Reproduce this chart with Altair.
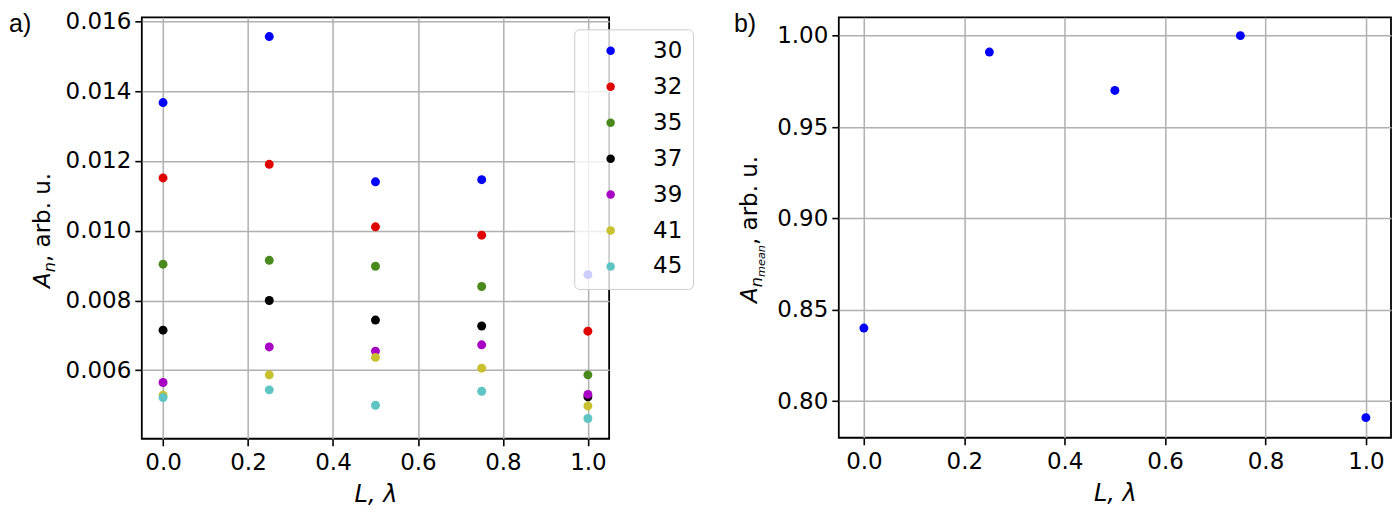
import altair as alt
import pandas as pd

# ---- data ----
L_vals = [0.0, 0.25, 0.5, 0.75, 1.0]
series_names = ["30", "32", "35", "37", "39", "41", "45"]
series_colors = ["#0000ff", "#e00000", "#4a8a1c", "#000000", "#a800c4", "#c8c02c", "#5ec4c4"]
A_30 = [0.01367, 0.01556, 0.01140, 0.01146, 0.00874]
A_32 = [0.01151, 0.01190, 0.01011, 0.00987, 0.00712]
A_35 = [0.00904, 0.00915, 0.00898, 0.00840, 0.00587]
A_37 = [0.00715, 0.00800, 0.00744, 0.00727, 0.00524]
A_39 = [0.00565, 0.00667, 0.00655, 0.00673, 0.00531]
A_41 = [0.00529, 0.00587, 0.00637, 0.00606, 0.00498]
A_45 = [0.00522, 0.00544, 0.00500, 0.00540, 0.00462]
A_mean = [0.840, 0.991, 0.970, 1.000, 0.791]

left_yticks = [0.006, 0.008, 0.010, 0.012, 0.014, 0.016]
right_yticks = [0.80, 0.85, 0.90, 0.95, 1.00]
xticks = [0.0, 0.2, 0.4, 0.6, 0.8, 1.0]

all_series = [A_30, A_32, A_35, A_37, A_39, A_41, A_45]
rows = []
for name, vals in zip(series_names, all_series):
    for l, a in zip(L_vals, vals):
        rows.append({"L": l, "A": a, "series": name})
df_left = pd.DataFrame(rows)
df_right = pd.DataFrame({"L": L_vals, "A": A_mean})

FONT = "DejaVu Sans"
TICK_FS = 23
TITLE_FS = 23
PT_SIZE = 80

def xaxis():
    return alt.Axis(values=xticks, format=".1f", title="L, λ", titleFontStyle="italic",
                    titleFontWeight="normal", titleFontSize=24, titlePadding=8)

def one(text, x, y, fs, italic=False, angle=270, baseline="alphabetic", font=FONT):
    props = dict(text=text, fontSize=fs, font=font, align="left", baseline=baseline,
                 angle=angle, color="black")
    if italic:
        props["fontStyle"] = "italic"
    return alt.Chart(pd.DataFrame({"_": [0]})).mark_text(**props).encode(
        x=alt.value(x), y=alt.value(y))

W1, H1 = 468, 422
W2, H2 = 553, 421

points_left = alt.Chart(df_left).mark_circle(size=PT_SIZE, opacity=1).encode(
    x=alt.X("L:Q", scale=alt.Scale(domain=[-0.05, 1.05], nice=False, zero=False), axis=xaxis()),
    y=alt.Y("A:Q", scale=alt.Scale(domain=[0.00404, 0.01611], nice=False, zero=False),
            axis=alt.Axis(values=left_yticks, format=".3f", title=None)),
    color=alt.Color("series:N", sort=series_names,
                    scale=alt.Scale(domain=series_names, range=series_colors),
                    legend=alt.Legend(title=None, orient="none", legendX=433, legendY=12,
                                      symbolType="circle", symbolSize=72, symbolStrokeWidth=0,
                                      symbolOpacity=1,
                                      labelFontSize=23, labelFont=FONT, labelColor="black",
                                      padding=10, symbolOffset=15, labelOffset=31,
                                      rowPadding=12, fillColor="rgba(255,255,255,0.8)",
                                      strokeColor="#cccccc", cornerRadius=5)),
)

left = alt.layer(
    points_left,
    one("a)", -133, -5, 25, angle=0, baseline="top", font="Liberation Sans"),
    one("A", -92, 271, TITLE_FS, italic=True),
    one("n", -87, 255.3, TITLE_FS * 0.7, italic=True),
    one(", arb. u.", -92, 245, TITLE_FS),
).properties(width=W1, height=H1)

points_right = alt.Chart(df_right).mark_circle(size=PT_SIZE, opacity=1, color="#0000ff").encode(
    x=alt.X("L:Q", scale=alt.Scale(domain=[-0.05, 1.05], nice=False, zero=False), axis=xaxis()),
    y=alt.Y("A:Q", scale=alt.Scale(domain=[0.780, 1.010], nice=False, zero=False),
            axis=alt.Axis(values=right_yticks, format=".2f", title=None)),
)

right = alt.layer(
    points_right,
    one("b)", -105, -5, 25, angle=0, baseline="top", font="Liberation Sans"),
    one("A", -82, 286, TITLE_FS, italic=True),
    one("n", -77, 270.3, TITLE_FS * 0.7, italic=True),
    one("mean", -73.5, 260, TITLE_FS * 0.49, italic=True),
    one(", arb. u.", -82, 228, TITLE_FS),
).properties(width=W2, height=H2)

chart = alt.hconcat(left, right, spacing=230, bounds="flush").properties(
    padding={"left": 0, "top": 0, "right": 0, "bottom": 0}
).configure_view(
    stroke="black", strokeWidth=1.8
).configure_axis(
    grid=True, gridColor="#b0b0b0", gridWidth=1.5, gridOpacity=1,
    domain=False, ticks=True, tickColor="black", tickWidth=1.6, tickSize=7,
    labelFont=FONT, labelFontSize=TICK_FS, labelColor="black", labelPadding=4,
    titleFont=FONT, titleColor="black",
).configure_axisX(labelPadding=6)

chart.save("out.html", embed_options={"renderer": "svg", "actions": False})
